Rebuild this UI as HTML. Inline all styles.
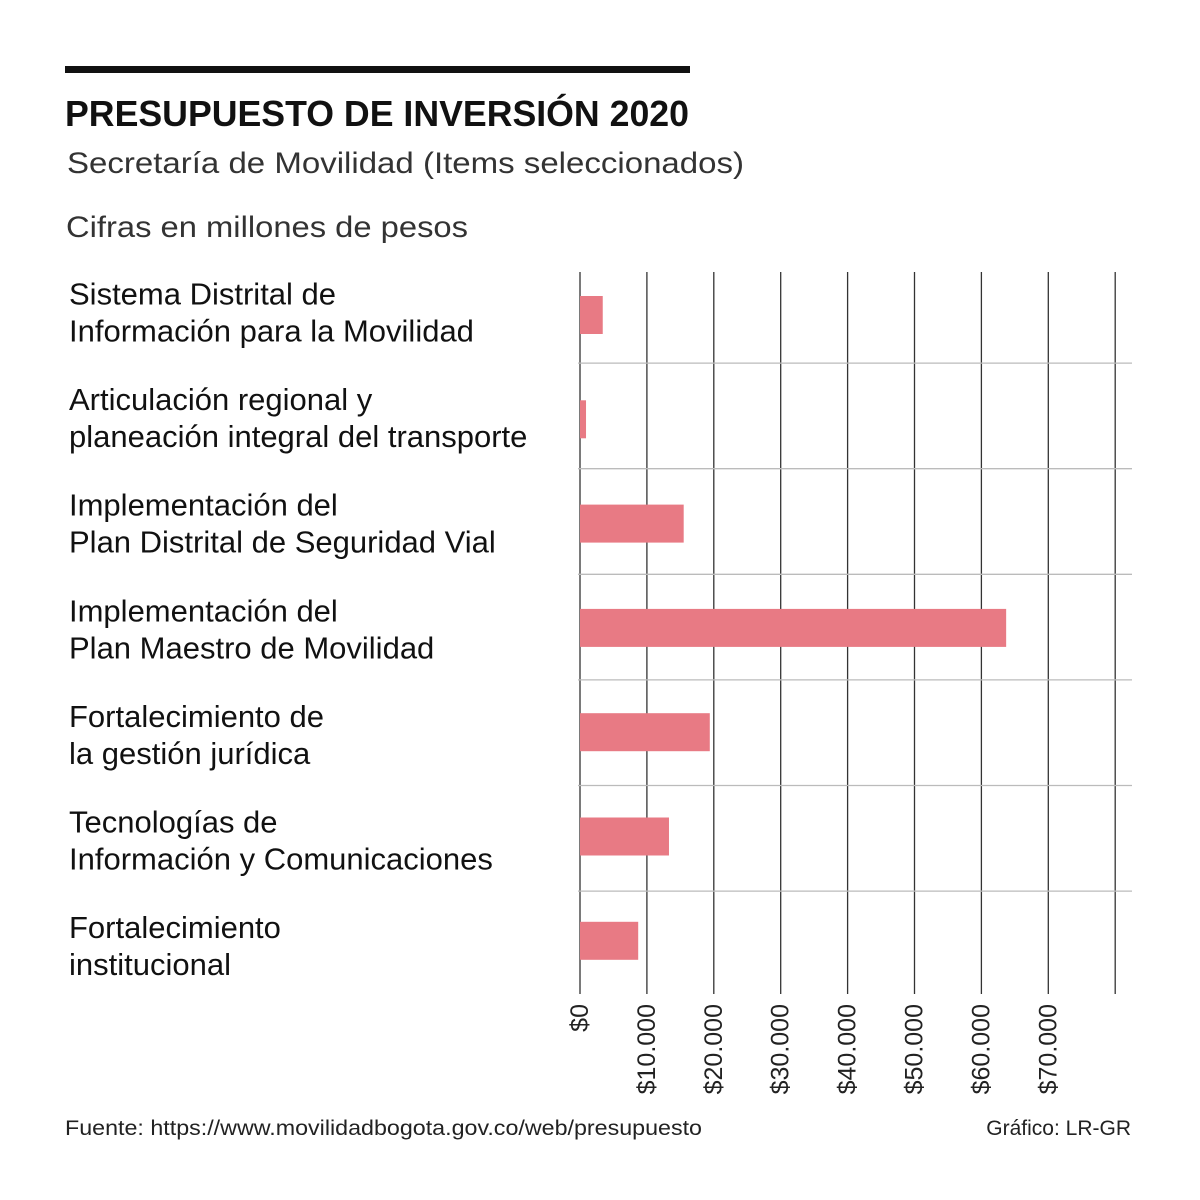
<!DOCTYPE html>
<html><head><meta charset="utf-8">
<style>
body{margin:0;background:#fff;}
#wrap{position:relative;width:1200px;height:1200px;overflow:hidden;font-family:"Liberation Sans",sans-serif;color:#111;}
svg text{font-family:"Liberation Sans",sans-serif;}
</style></head>
<body>
<div id="wrap">
<svg id="chart" width="1200" height="1200">
  <rect x="65" y="66" width="625" height="7" fill="#111"/>
  <text x="65" y="126" font-size="36" font-weight="bold" fill="#111" textLength="624" lengthAdjust="spacingAndGlyphs">PRESUPUESTO DE INVERSIÓN 2020</text>
  <text x="67" y="173" font-size="30" fill="#333" textLength="677" lengthAdjust="spacingAndGlyphs">Secretaría de Movilidad (Items seleccionados)</text>
  <text x="66" y="237" font-size="30" fill="#333" textLength="402" lengthAdjust="spacingAndGlyphs">Cifras en millones de pesos</text>
  <g id="grid"></g><g id="seps"></g><g id="bars"></g><g id="labels"></g><g id="ticks"></g>
  <text x="65" y="1135" font-size="21" fill="#222" textLength="637" lengthAdjust="spacingAndGlyphs">Fuente: https://www.movilidadbogota.gov.co/web/presupuesto</text>
  <text x="1131" y="1135" font-size="21" fill="#222" text-anchor="end">Gráfico: LR-GR</text>
</svg>
</div>
<script>
const categories = [
  ["Sistema Distrital de","Información para la Movilidad"],
  ["Articulación regional y","planeación integral del transporte"],
  ["Implementación del","Plan Distrital de Seguridad Vial"],
  ["Implementación del","Plan Maestro de Movilidad"],
  ["Fortalecimiento de","la gestión jurídica"],
  ["Tecnologías de","Información y Comunicaciones"],
  ["Fortalecimiento","institucional"]
];
const values = [3400, 900, 15500, 63700, 19400, 13300, 8700];
const tickValues = [0,10000,20000,30000,40000,50000,60000,70000,80000];
const tickLabels = ["$0","$10.000","$20.000","$30.000","$40.000","$50.000","$60.000","$70.000",""];

const NS="http://www.w3.org/2000/svg";
const x0=580, pxPer=66.9/10000;
const xs=v=>x0+v*pxPer;
const sepY=i=>257.5+i*105.6;
const barY=i=>296+i*104.3;
function mk(tag,attrs,parent){const e=document.createElementNS(NS,tag);for(const k in attrs)e.setAttribute(k,attrs[k]);document.getElementById(parent).appendChild(e);return e;}

tickValues.forEach((t,i)=>{
  const g=mk('line',{x1:xs(t),x2:xs(t),y1:272,y2:994,stroke:'#333','stroke-width':1.3},'grid');
  
  
  if(tickLabels[i]){
    const x=xs(t)+8, y=1004;
    const tx=mk('text',{x:x,y:y,'font-size':25,fill:'#222','text-anchor':'end',transform:`rotate(-90 ${x} ${y})`},'ticks');
    tx.textContent=tickLabels[i];
    
    
  }
});
categories.forEach((c,i)=>{
  if(i>0){
    const s=mk('line',{x1:578,x2:1132,y1:sepY(i),y2:sepY(i),stroke:'#bbb','stroke-width':1.3},'seps');
    
    
  }
  const b=mk('rect',{x:x0,y:barY(i),width:xs(values[i])-x0,height:38,fill:'#e87a84'},'bars');
  
  
  c.forEach((line,j)=>{
    const t=mk('text',{x:69,y:sepY(i)+47+j*37,'font-size':31,fill:'#111'},'labels');
    t.textContent=line;
    
    
  });
});
</script>
</body></html>
